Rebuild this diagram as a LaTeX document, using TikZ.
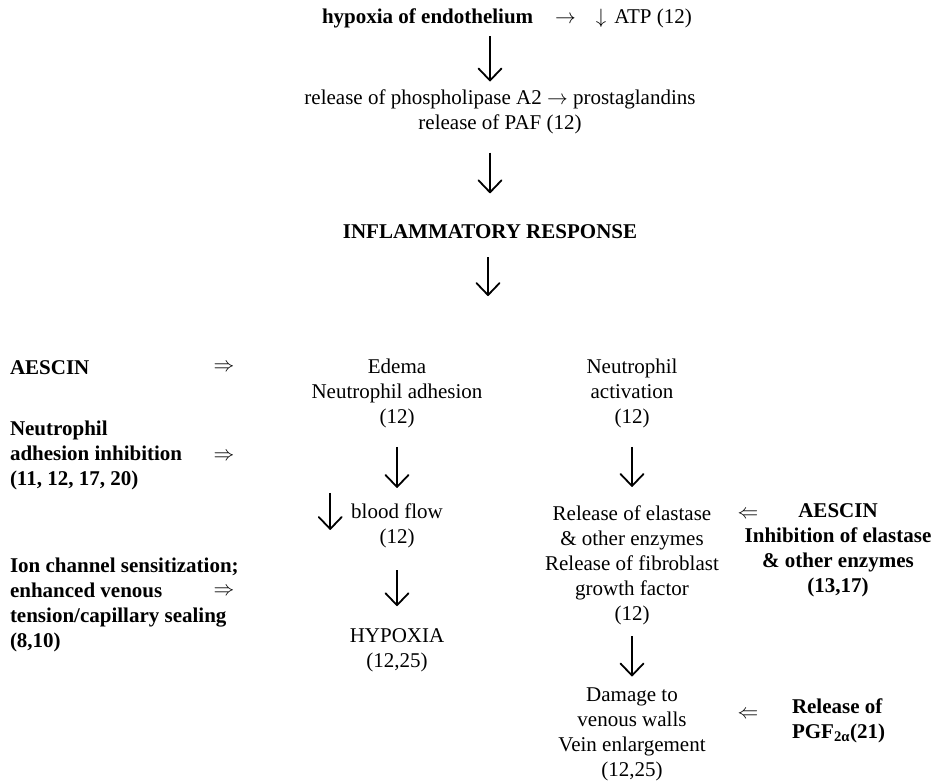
\documentclass[tikz,border=0pt]{standalone}
\usepackage{fontspec}
\setmainfont{Liberation Serif}
\usetikzlibrary{arrows.meta}
\begin{document}
\begin{tikzpicture}[x=1pt,y=-1pt,
  txt/.style={inner sep=0pt, outer sep=0pt, align=center, font=\fontsize{21}{25}\selectfont},
  btxt/.style={txt, font=\fontsize{21}{25}\selectfont\bfseries},
  ltxt/.style={btxt, align=left, anchor=west},
  big/.style={line width=1.8pt, -{Straight Barb[length=12pt,width=23pt,line width=1.8pt,round]}}]
\useasboundingbox (0,0) rectangle (934,780);
\node[txt, anchor=west] (top) at (322,18) {\textbf{hypoxia of endothelium}\hspace{22pt}$\rightarrow$\hspace{20pt}$\downarrow$\hspace{8pt}ATP (12)};
\node[txt] (rel) at (500,112) {release of phospholipase A2 $\rightarrow$ prostaglandins\\release of PAF (12)};
\node[btxt] (inf) at (490,232) {INFLAMMATORY RESPONSE};
\coordinate (split) at (488,296);
\node[ltxt] (aes1) at (10,368) {AESCIN};
\node[txt] (dr1) at (224,368) {$\Rightarrow$};
\node[ltxt] (nai) at (10,455) {Neutrophil\\adhesion inhibition\\(11, 12, 17, 20)};
\node[txt] (dr2) at (224,457) {$\Rightarrow$};
\node[ltxt] (ion) at (10,604.5) {Ion channel sensitization;\\enhanced venous\\tension/capillary sealing\\(8,10)};
\node[txt] (dr3) at (224,592) {$\Rightarrow$};
\node[txt] (ede) at (397,393) {Edema\\Neutrophil adhesion\\(12)};
\node[txt] (act) at (632,393) {Neutrophil\\activation\\(12)};
\node[txt] (bf) at (397,525.5) {blood flow\\(12)};
\node[txt] (hyx) at (397,650.5) {HYPOXIA\\(12,25)};
\node[txt] (ela) at (632,565) {Release of elastase\\\& other enzymes\\Release of fibroblast\\growth factor\\(12)};
\node[txt] (dl1) at (748,515) {$\Leftarrow$};
\node[btxt] (aes2) at (838,550.5) {AESCIN\\Inhibition of elastase\\\& other enzymes\\(13,17)};
\node[txt] (dmg) at (632,734.5) {Damage to\\venous walls\\Vein enlargement\\(12,25)};
\node[txt] (dl2) at (748,715) {$\Leftarrow$};
\node[ltxt] (pgf) at (792,720.5) {Release of\\PGF\textsubscript{2α}(21)};
\draw[big, shorten <=8.4pt, shorten >=8.5pt] (top.south -| inf) -- (rel.north -| inf);
\draw[big, shorten <=18.4pt, shorten >=31.7pt] (rel.south -| inf) -- (inf.north);
\draw[big, shorten <=18pt] (inf.south -| split) -- (split);
\draw[big, shorten <=19.4pt, shorten >=15.5pt] (ede.south) -- (bf.north);
\draw[big, shorten <=22.4pt, shorten >=22.7pt] (bf.south) -- (hyx.north);
\draw[big, shorten <=19.4pt, shorten >=18.5pt] (act.south) -- (ela.north);
\draw[big, shorten <=11.4pt, shorten >=11.5pt] (ela.south) -- (dmg.north);
\draw[big] ([xshift=-21pt,yshift=10.5pt]bf.north west) -- ([xshift=-21pt,yshift=-26.5pt]bf.north west);
\end{tikzpicture}
\end{document}
